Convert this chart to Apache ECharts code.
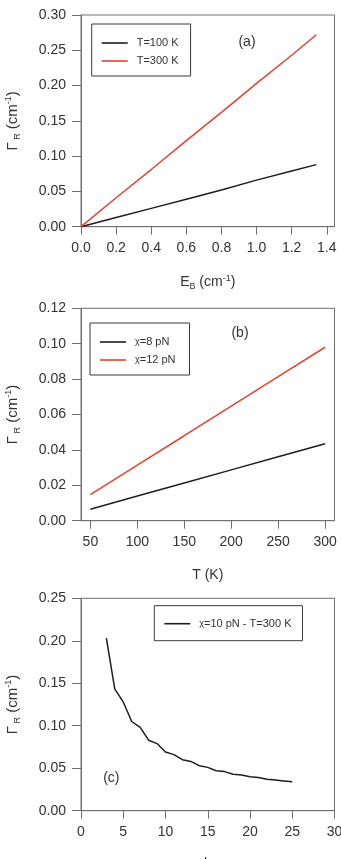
<!DOCTYPE html>
<html>
<head>
<meta charset="utf-8">
<script src="https://cdn.jsdelivr.net/npm/echarts@6/dist/echarts.min.js"></script>
<style>
  html, body { margin: 0; padding: 0; background: #fff; }
  #chart { width: 341px; height: 859px; }
</style>
</head>
<body>
<div id="chart"></div>
<script>
// panel (a): Gamma_R vs E_B
var ebValues = [0, 0.2, 0.4, 0.6, 0.8, 1.0, 1.2, 1.34];
var gammaT100 = [0, 0.013, 0.026, 0.039, 0.052, 0.066, 0.079, 0.088];
var gammaT300 = [0, 0.041, 0.081, 0.122, 0.162, 0.203, 0.243, 0.272];
var ebTicks = [0, 0.2, 0.4, 0.6, 0.8, 1.0, 1.2, 1.4];

// panel (b): Gamma_R vs T
var tValues = [50, 100, 150, 200, 250, 300];
var gammaChi8 = [0.0065, 0.0139, 0.0213, 0.0287, 0.0361, 0.0435];
var gammaChi12 = [0.0147, 0.0314, 0.0480, 0.0647, 0.0814, 0.0980];
var tTicks = [50, 100, 150, 200, 250, 300];

// panel (c): Gamma_R vs L, chi=10 pN, T=300 K
var lValues = [3, 4, 5, 6, 7, 8, 9, 10, 11, 12, 13, 14, 15, 16, 17, 18, 19, 20, 21, 22, 23, 24, 25];
var gammaChi10 = [0.203, 0.143, 0.128, 0.105, 0.098, 0.083, 0.079, 0.069, 0.066, 0.060, 0.058, 0.053,
                  0.051, 0.047, 0.046, 0.043, 0.042, 0.040, 0.039, 0.037, 0.036, 0.035, 0.034];

var FONT = '"Liberation Sans", Arial, sans-serif';
var TEXT = '#333';
var FRAME = '#707070';
var BLACK = '#1e1e1e';
var RED = '#e5412f';

function pairs(xs, ys) {
    return xs.map(function (x, i) { return [x, ys[i]]; });
}

function richOf(size) {
    return {
        n: { fontSize: size, fontFamily: FONT, color: TEXT, lineHeight: size + 3 },
        s: { fontSize: 9, fontFamily: FONT, color: TEXT, lineHeight: 9, verticalAlign: 'bottom' },
        p: { fontSize: 9, fontFamily: FONT, color: TEXT, lineHeight: 9, verticalAlign: 'top' }
    };
}
var gammaName = '{n|Γ}{s| R}{n| (cm}{p|-1}{n|)}';

function xAxisOf(idx, min, max, ticks, digits, name, gap) {
    var ax = {
        type: 'value', gridIndex: idx, min: min, max: max,
        name: name, nameLocation: 'middle', nameGap: gap,
        nameTextStyle: { rich: richOf(14) },
        axisLine: { show: true, lineStyle: { color: FRAME, width: 1 } },
        axisTick: { show: true, length: 8, lineStyle: { color: FRAME } },
        axisLabel: {
            margin: 14, color: TEXT, fontSize: 14, fontFamily: FONT,
            formatter: function (v) { return v.toFixed(digits); }
        },
        splitLine: { show: false }
    };
    if (ticks) {
        ax.axisTick.customValues = ticks;
        ax.axisLabel.customValues = ticks;
    } else {
        ax.interval = 5;
    }
    return ax;
}

function yAxisOf(idx, max, interval) {
    return {
        type: 'value', gridIndex: idx, min: 0, max: max, interval: interval,
        name: gammaName, nameLocation: 'middle', nameRotate: 90, nameGap: 59,
        nameTextStyle: { rich: richOf(15) },
        axisLine: { show: true, lineStyle: { color: FRAME, width: 1 } },
        axisTick: { show: true, length: 9, lineStyle: { color: FRAME } },
        axisLabel: {
            margin: 15, color: TEXT, fontSize: 14, fontFamily: FONT,
            formatter: function (v) { return v.toFixed(2); }
        },
        splitLine: { show: false }
    };
}

function lineSeries(name, idx, xs, ys, color) {
    return {
        name: name, type: 'line', xAxisIndex: idx, yAxisIndex: idx,
        data: pairs(xs, ys), symbol: 'none', silent: true,
        lineStyle: { color: color, width: 1.5 },
        itemStyle: { color: color }
    };
}

function legendOf(names, left, top, padding) {
    return {
        data: names, orient: 'vertical', left: left, top: top,
        padding: padding, itemGap: 6, itemWidth: 26, itemHeight: 1.6,
        icon: 'rect',
        borderColor: '#3a3a3a', borderWidth: 1,
        textStyle: {
            fontSize: 11, fontFamily: FONT, color: TEXT, lineHeight: 12,
            padding: [0, 0, 0, 4],
            rich: { c: { fontSize: 9, fontFamily: FONT, color: TEXT } }
        },
        formatter: function (n) { return n.replace('χ', '{c|χ}'); }
    };
}

function tag(text, x, y) {
    return {
        type: 'text', x: x, y: y, silent: true,
        style: { text: text, font: '14px ' + FONT, fill: TEXT, align: 'center', verticalAlign: 'middle' }
    };
}

var gridBase = { left: 81, right: 6.5, show: true, borderColor: FRAME, borderWidth: 1, outerBoundsMode: 'none' };

var chart = echarts.init(document.getElementById('chart'));
chart.setOption({
    backgroundColor: '#fff',
    animation: false,
    grid: [
        Object.assign({ top: 15, height: 211.7 }, gridBase),
        Object.assign({ top: 308.3, height: 212.4 }, gridBase),
        Object.assign({ top: 598.3, height: 212.4 }, gridBase)
    ],
    xAxis: [
        xAxisOf(0, 0, 1.444, ebTicks, 1, '{n|E}{s|B}{n| (cm}{p|-1}{n|)}', 47),
        xAxisOf(1, 40, 310, tTicks, 0, '{n|T (K)}', 46),
        xAxisOf(2, 0, 30, null, 0, '{n|L}', 44)
    ],
    yAxis: [
        yAxisOf(0, 0.30, 0.05),
        yAxisOf(1, 0.12, 0.02),
        yAxisOf(2, 0.25, 0.05)
    ],
    legend: [
        legendOf(['T=100 K', 'T=300 K'], 91.7, 24, [13, 12, 9, 10]),
        legendOf(['χ=8 pN', 'χ=12 pN'], 90, 323, [13, 14, 9, 10]),
        legendOf(['χ=10 pN - T=300 K'], 154.3, 605.7, [12, 11, 11, 10])
    ],
    graphic: [
        tag('(a)', 247, 41.7),
        tag('(b)', 240, 333.3),
        tag('(c)', 111.3, 778.3)
    ],
    series: [
        lineSeries('T=100 K', 0, ebValues, gammaT100, BLACK),
        lineSeries('T=300 K', 0, ebValues, gammaT300, RED),
        lineSeries('χ=8 pN', 1, tValues, gammaChi8, BLACK),
        lineSeries('χ=12 pN', 1, tValues, gammaChi12, RED),
        lineSeries('χ=10 pN - T=300 K', 2, lValues, gammaChi10, BLACK)
    ]
});
</script>
</body>
</html>
